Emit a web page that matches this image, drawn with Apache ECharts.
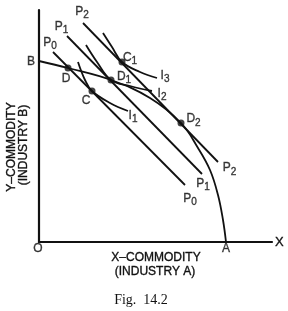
<!DOCTYPE html>
<html><head><meta charset="utf-8">
<script src="https://cdn.jsdelivr.net/npm/echarts@6/dist/echarts.min.js"></script>
<style>html,body{margin:0;padding:0;background:#fff}#c{width:288px;height:311px}</style>
</head><body><div id="c"></div>
<script>
// Production possibility curve B -> A
const ppc = [[0,181],[29,174],[72,162],[111,144],[142,119],[159,94],[171,72],[179,47],[184,22],[187,0]];
// Price lines
const priceP0 = [[14,190],[146,57]];
const priceP1 = [[28,206],[163,68]];
const priceP2 = [[44,219],[179,80]];
// Indifference curves
const indiffI1 = [[39,180],[46,162],[53,151],[71,139],[89,131]];
const indiffI2 = [[47,197],[58,180],[72,162],[91,156],[113,151]];
const indiffI3 = [[64,209],[73,195],[83,180],[101,170],[118,164]];
// Marked points
const pointNames = ['D','C','D1','C1','D2'];
const pointValues = [[29,174],[53,151],[72,162],[83,180],[142,119]];
// Axis and caption texts
const xTitle = ['X\u2013COMMODITY','(INDUSTRY A)'];
const yTitle = ['Y\u2013COMMODITY','(INDUSTRY B)'];
const caption = 'Fig.  14.2';

const FONT = "'Liberation Sans', Arial, sans-serif";
const INK = '#111';

// label anchors (data) and pixel offsets (style)
const labels = [
  {t:'B', at: ppc[0], off:[-8,1]},
  {t:'A', at: ppc[ppc.length-1], off:[0,7.5]},
  {t:'O', at: [0,0], off:[-1,7.5]},
  {t:'P0', at: priceP0[0], off:[-3,-9]},
  {t:'P1', at: priceP1[0], off:[-5.5,-9]},
  {t:'P2', at: priceP2[0], off:[-1,-11]},
  {t:'P0', at: priceP0[1], off:[5,14]},
  {t:'P1', at: priceP1[1], off:[1,10]},
  {t:'P2', at: priceP2[1], off:[11.5,6.5]},
  {t:'D', at: pointValues[0], off:[-2,11]},
  {t:'C', at: pointValues[1], off:[-6,10]},
  {t:'D1', at: pointValues[2], off:[13,-3]},
  {t:'C1', at: pointValues[3], off:[8,-4]},
  {t:'D2', at: pointValues[4], off:[12.5,-3.5]},
  {t:'I1', at: indiffI1[indiffI1.length-1], off:[5,5]},
  {t:'I2', at: indiffI2[indiffI2.length-1], off:[10,3]},
  {t:'I3', at: indiffI3[indiffI3.length-1], off:[8,-2]}
];

function fmt(s){
  if (s.length === 1) return '{b|' + s + '}';
  return '{b|' + s[0] + '}{s|' + s.slice(1) + '}';
}

const lineStyle = {color: INK, width: 1.8};
function lineSeries(data, smooth){
  return {type:'line', data: data, smooth: smooth, symbol:'none', lineStyle: lineStyle, silent:true, z:2};
}
const heavy = {textBorderColor: INK, textBorderWidth: 0.35};

const chart = echarts.init(document.getElementById('c'), null, {renderer:'canvas'});
chart.setOption({
  animation:false,
  backgroundColor:'#fff',
  grid:{left:39, top:10, width:233, height:232, containLabel:false},
  xAxis:{type:'value', min:0, max:233, axisLine:{lineStyle:{color:INK, width:2.2}},
    axisTick:{show:false}, axisLabel:{show:false}, splitLine:{show:false},
    name:'X', nameLocation:'end', nameGap:3,
    nameTextStyle:Object.assign({color:INK, fontSize:13, fontFamily:FONT, verticalAlign:'middle', padding:[2,0,0,0]}, heavy)},
  yAxis:{type:'value', min:0, max:232, axisLine:{lineStyle:{color:INK, width:2.2}},
    axisTick:{show:false}, axisLabel:{show:false}, splitLine:{show:false}},
  series:[
    lineSeries(ppc, 0.4),
    lineSeries(priceP0, false),
    lineSeries(priceP1, false),
    lineSeries(priceP2, false),
    lineSeries(indiffI1, 0.4),
    lineSeries(indiffI2, 0.4),
    lineSeries(indiffI3, 0.4),
    {type:'scatter', data: pointValues.map((v,i)=>({name:pointNames[i], value:v})),
      symbolSize:7, itemStyle:{color:INK}, z:5},
    {type:'scatter', symbolSize:1, itemStyle:{color:'rgba(0,0,0,0)'}, z:6,
      data: labels.map(l=>({value:l.at, label:{show:true, position:'inside', offset:l.off,
        formatter: fmt(l.t), align:'center', verticalAlign:'middle',
        rich:{
          b:Object.assign({fontSize:12, fontFamily:FONT, color:INK, lineHeight:13, verticalAlign:'top'}, heavy),
          s:Object.assign({fontSize:10, fontFamily:FONT, color:INK, lineHeight:11, padding:[5,0,0,0], verticalAlign:'top'}, heavy)
        }}}))}
  ],
  graphic:[
    {type:'text', x:156, y:258, style:Object.assign({text:xTitle[0], fill:INK, stroke:INK, lineWidth:0.35, font:"12px " + FONT, textAlign:'center', textVerticalAlign:'middle'})},
    {type:'text', x:155, y:272, style:{text:xTitle[1], fill:INK, stroke:INK, lineWidth:0.35, font:"12px " + FONT, textAlign:'center', textVerticalAlign:'middle'}},
    {type:'text', x:12, y:147, rotation:Math.PI/2, style:{text:yTitle[0], fill:INK, stroke:INK, lineWidth:0.35, font:"12px " + FONT, textAlign:'center', textVerticalAlign:'middle'}},
    {type:'text', x:24, y:145, rotation:Math.PI/2, style:{text:yTitle[1], fill:INK, stroke:INK, lineWidth:0.35, font:"12px " + FONT, textAlign:'center', textVerticalAlign:'middle'}},
    {type:'text', x:141, y:300, style:{text:caption, fill:INK, font:"14px 'Liberation Serif', 'Times New Roman', serif", textAlign:'center', textVerticalAlign:'middle'}}
  ]
});
</script></body></html>
